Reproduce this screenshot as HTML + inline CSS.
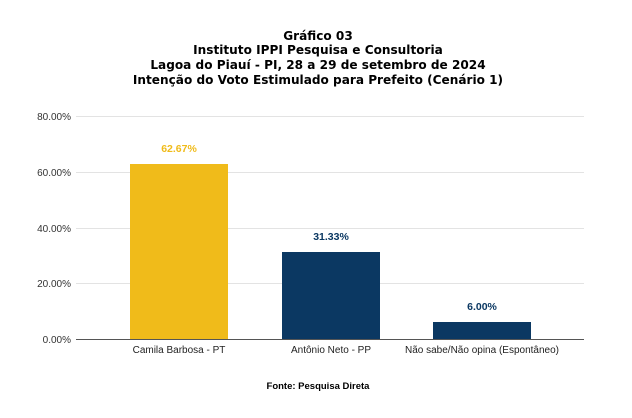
<!DOCTYPE html>
<html><head><meta charset="utf-8"><style>
body{margin:0;width:632px;height:413px;background:#fff;overflow:hidden}
</style></head><body>
<svg width="632" height="413" xmlns="http://www.w3.org/2000/svg">
<g font-family="DejaVu Sans, sans-serif" font-weight="bold" font-size="12.1" fill="#000" text-anchor="middle">
<text x="318" y="40">Gráfico 03</text>
<text x="318" y="54">Instituto IPPI Pesquisa e Consultoria</text>
<text x="318" y="69">Lagoa do Piauí - PI, 28 a 29 de setembro de 2024</text>
<text x="318" y="84">Intenção do Voto Estimulado para Prefeito (Cenário 1)</text>
</g>
<g stroke="#e3e3e3" stroke-width="1">
<line x1="76" x2="584" y1="116.5" y2="116.5"/>
<line x1="76" x2="584" y1="172.5" y2="172.5"/>
<line x1="76" x2="584" y1="228.5" y2="228.5"/>
<line x1="76" x2="584" y1="283.5" y2="283.5"/>
</g>
<line x1="76" x2="584" y1="339.5" y2="339.5" stroke="#555" stroke-width="1"/>
<g font-family="Liberation Sans, sans-serif" font-size="10" fill="#333" text-anchor="end">
<text x="71" y="120">80.00%</text>
<text x="71" y="176">60.00%</text>
<text x="71" y="232">40.00%</text>
<text x="71" y="287">20.00%</text>
<text x="71" y="343">0.00%</text>
</g>
<rect x="130" y="164" width="98" height="175" fill="#f0bb1a"/>
<rect x="282" y="252" width="98" height="87" fill="#0b3862"/>
<rect x="433" y="322" width="98" height="17" fill="#0b3862"/>
<g font-family="Liberation Sans, sans-serif" font-size="10.5" font-weight="bold" text-anchor="middle">
<text x="179" y="152" fill="#f0bb1a">62.67%</text>
<text x="331" y="240" fill="#0b3862">31.33%</text>
<text x="482" y="310" fill="#0b3862">6.00%</text>
</g>
<g font-family="Liberation Sans, sans-serif" font-size="10" fill="#222" text-anchor="middle">
<text x="179" y="353">Camila Barbosa - PT</text>
<text x="331" y="353">Antônio Neto - PP</text>
<text x="482" y="353">Não sabe/Não opina (Espontâneo)</text>
</g>
<text x="318" y="389" font-family="Liberation Sans, sans-serif" font-size="9.5" font-weight="bold" text-anchor="middle" fill="#000">Fonte: Pesquisa Direta</text>
</svg>
</body></html>
